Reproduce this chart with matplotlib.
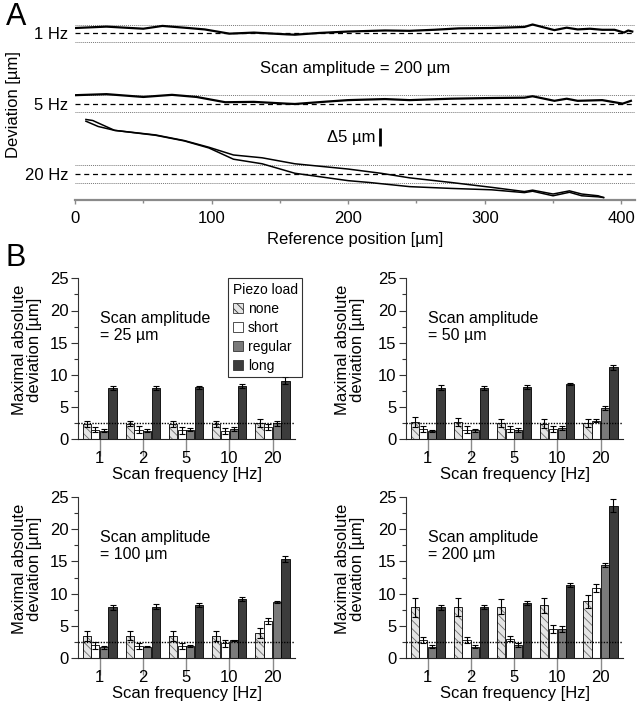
import matplotlib
matplotlib.use("Agg")
import matplotlib.pyplot as plt
from matplotlib.patches import Patch
from matplotlib.ticker import MultipleLocator

plt.rcParams['font.family'] = ['Liberation Sans', 'DejaVu Sans']
plt.rcParams['hatch.linewidth'] = 0.6

W, H = 642, 712

# ── Panel A: deviation traces (µm, relative to each baseline) ──────────────
pos_1hz = [0, 23, 50, 64, 83, 95, 113, 131, 155, 161, 179, 200, 227, 245, 263,
           281, 305, 329, 335, 341, 351, 360, 368, 377, 386, 395, 402, 405, 408]
dev_1hz = [1.5, 1.9, 1.3, 2.1, 1.5, 1.1, -0.1, 0.2, -0.3, -0.4, 0.1, 0.5, 0.8, 0.7, 1.0,
           1.4, 1.5, 1.8, 2.5, 1.9, 0.9, 1.6, 1.1, 1.3, 1.0, 1.0, 0.2, 0.8, 0.5]

pos_5hz = [0, 23, 50, 71, 89, 110, 131, 155, 161, 185, 200, 227, 245, 275,
           305, 329, 335, 351, 360, 368, 386, 401, 407]
dev_5hz = [2.4, 2.7, 1.9, 2.5, 1.9, 0.4, 0.5, 0.0, -0.1, 0.6, 1.0, 1.3, 1.0, 1.4,
           1.6, 1.7, 2.1, 0.8, 1.4, 0.8, 1.0, 0.0, 0.8]

pos_20hz_fwd = [8, 13, 29, 59, 80, 98, 116, 137, 161, 200, 224, 245, 275, 305,
                329, 335, 350, 362, 371, 383, 387]
dev_20hz_fwd = [15.5, 15.2, 12.4, 11.1, 9.5, 7.6, 5.4, 4.6, 2.9, 1.4, 0.2, -1.1, -2.4, -3.8,
                -5.0, -4.6, -5.7, -4.8, -5.7, -6.2, -6.7]
pos_20hz_back = [8, 17, 29, 59, 80, 98, 116, 137, 161, 200, 215, 245, 275, 305,
                 329, 335, 350, 362, 371, 383, 387]
dev_20hz_back = [15.0, 13.5, 12.4, 11.0, 9.4, 7.4, 4.2, 2.9, 0.2, -1.9, -2.4, -3.6, -4.1, -4.5,
                 -5.3, -4.9, -6.2, -5.2, -6.2, -6.5, -6.7]

freq_labels_a = ["1 Hz", "5 Hz", "20 Hz"]
baselines = [0, -20, -40]

# ── Panel B: maximal absolute deviation [µm], order none/short/regular/long ─
freqs = ["1", "2", "5", "10", "20"]
loads = ["none", "short", "regular", "long"]

dev_25um = [[2.4, 2.4, 2.4, 2.4, 2.5],
            [1.5, 1.5, 1.4, 1.3, 1.9],
            [1.35, 1.35, 1.5, 1.6, 2.5],
            [7.95, 7.95, 8.05, 8.3, 9.1]]
err_25um = [[0.5, 0.4, 0.5, 0.5, 0.6],
            [0.4, 0.5, 0.5, 0.4, 0.4],
            [0.2, 0.2, 0.2, 0.3, 0.4],
            [0.3, 0.3, 0.2, 0.3, 0.5]]

dev_50um = [[2.7, 2.7, 2.5, 2.4, 2.5],
            [1.6, 1.5, 1.6, 1.6, 2.9],
            [1.3, 1.4, 1.5, 1.8, 4.9],
            [8.0, 8.0, 8.1, 8.6, 11.2]]
err_50um = [[0.8, 0.6, 0.6, 0.7, 0.6],
            [0.5, 0.5, 0.5, 0.5, 0.2],
            [0.2, 0.2, 0.3, 0.3, 0.3],
            [0.4, 0.3, 0.3, 0.2, 0.4]]

dev_100um = [[3.5, 3.5, 3.5, 3.4, 3.9],
             [2.0, 1.9, 1.9, 2.3, 5.8],
             [1.7, 1.8, 1.9, 2.8, 8.7],
             [7.9, 8.0, 8.2, 9.2, 15.4]]
err_100um = [[0.8, 0.7, 0.8, 0.8, 0.8],
             [0.5, 0.5, 0.5, 0.6, 0.5],
             [0.2, 0.1, 0.2, 0.1, 0.2],
             [0.4, 0.4, 0.3, 0.3, 0.5]]

dev_200um = [[7.9, 7.9, 8.0, 8.2, 8.8],
             [2.8, 2.8, 3.0, 4.5, 10.9],
             [1.8, 1.8, 2.0, 4.5, 14.4],
             [7.9, 8.0, 8.6, 11.4, 23.6]]
err_200um = [[1.5, 1.4, 1.2, 1.2, 1.0],
             [0.5, 0.5, 0.4, 0.6, 0.6],
             [0.2, 0.2, 0.3, 0.5, 0.3],
             [0.4, 0.3, 0.3, 0.3, 1.0]]

amplitudes = ["25", "50", "100", "200"]

face_colors = ["#e4e4e4", "#ffffff", "#7a7a7a", "#3c3c3c"]
hatches = ["\\\\\\\\", None, None, None]

fig = plt.figure(figsize=(W / 100, H / 100), dpi=100)

# ── Panel A ────────────────────────────────────────────────────────────────
axA = fig.add_axes([75 / W, 1 - 200 / H, 560 / W, 182 / H])
for base in baselines:
    axA.axhline(base, color="k", lw=0.9, ls=(0, (4, 3)))
    axA.axhline(base + 2.5, color="#777777", lw=0.7, ls=(0, (1, 1)))
    axA.axhline(base - 2.5, color="#777777", lw=0.7, ls=(0, (1, 1)))

axA.plot(pos_1hz, [baselines[0] + d for d in dev_1hz], color="k", lw=1.6)
axA.plot(pos_5hz, [baselines[1] + d for d in dev_5hz], color="k", lw=1.6)
axA.plot(pos_20hz_fwd, [baselines[2] + d for d in dev_20hz_fwd], color="k", lw=1.1)
axA.plot(pos_20hz_back, [baselines[2] + d for d in dev_20hz_back], color="k", lw=1.1)

axA.set_xlim(0, 410)
axA.set_ylim(-47.4, 4.35)
for s in ("top", "right", "left"):
    axA.spines[s].set_visible(False)
axA.spines["bottom"].set_color("#8a8a8a")
axA.spines["bottom"].set_linewidth(1.6)
axA.xaxis.set_major_locator(MultipleLocator(100))
axA.xaxis.set_minor_locator(MultipleLocator(50))
axA.tick_params(axis="x", which="major", length=3, width=1, color="#8a8a8a",
                labelsize=12, pad=5)
axA.tick_params(axis="x", which="minor", length=1.8, width=1, color="#8a8a8a")
axA.set_yticks(baselines, freq_labels_a)
axA.tick_params(axis="y", length=0, labelsize=12, pad=5)
axA.set_xlabel("Reference position [µm]", fontsize=12, labelpad=4)
fig.text(14 / W, 1 - 105 / H, "Deviation [µm]", rotation=90, ha="center",
         va="center", fontsize=12)

axA.text(205, -10, "Scan amplitude = 200 µm", ha="center", va="center", fontsize=12)
axA.text(220, -29.5, "Δ5 µm", ha="right", va="center", fontsize=12)
axA.plot([223, 223], [-27, -32], color="k", lw=2, solid_capstyle="butt")

fig.text(6 / W, 1 - 17 / H, "A", fontsize=22, ha="left", va="center")
fig.text(6 / W, 1 - 258 / H, "B", fontsize=22, ha="left", va="center")

# ── Panel B ────────────────────────────────────────────────────────────────
panel_data = [(dev_25um, err_25um), (dev_50um, err_50um),
              (dev_100um, err_100um), (dev_200um, err_200um)]
# left px, top px, bottom px
boxes = [(78, 278.3, 439.3), (406, 278.3, 439.3),
         (78, 496.7, 658.3), (406, 496.7, 658.3)]
offsets = [-0.3, -0.1, 0.1, 0.3]
bar_w = 0.19
xs = list(range(len(freqs)))

for i, ((dev, err), (left, top, bottom)) in enumerate(zip(panel_data, boxes)):
    ax = fig.add_axes([left / W, 1 - bottom / H, 217 / W, (bottom - top) / H])
    for j in range(len(loads)):
        xpos = [x + offsets[j] for x in xs]
        if hatches[j]:
            ax.bar(xpos, dev[j], bar_w, color=face_colors[j], hatch=hatches[j],
                   edgecolor="#6e6e6e", lw=0, zorder=2)
            ax.bar(xpos, dev[j], bar_w, fill=False, edgecolor="k", lw=0.6, zorder=2)
        else:
            ax.bar(xpos, dev[j], bar_w, color=face_colors[j], edgecolor="k",
                   lw=0.6, zorder=2)
        ax.errorbar(xpos, dev[j], yerr=err[j], fmt="none", ecolor="k",
                    elinewidth=0.8, capsize=2, capthick=0.8, zorder=4)
    ax.axhline(2.5, color="k", lw=1.0, ls=(0, (1, 1)), zorder=3)

    ax.set_xlim(-0.5, 4.52)
    ax.set_ylim(0, 25)
    ax.spines["top"].set_visible(False)
    ax.spines["right"].set_visible(False)
    ax.spines["left"].set_color("#333333")
    ax.spines["bottom"].set_color("#222222")
    ax.set_xticks(xs, freqs)
    ax.tick_params(axis="x", length=12, width=1, color="#8a8a8a",
                   labelsize=12, pad=-3.5)
    ax.yaxis.set_major_locator(MultipleLocator(5))
    ax.yaxis.set_minor_locator(MultipleLocator(2.5))
    ax.tick_params(axis="y", which="major", length=5, width=0.8,
                   color="#333333", labelsize=12, pad=2)
    ax.tick_params(axis="y", which="minor", length=3, width=0.8, color="#333333")

    ax.text(0.0, 17.4, f"Scan amplitude\n= {amplitudes[i]} µm", ha="left",
            va="center", fontsize=11.5, linespacing=1.2)

    cx = (left + 108.5) / W
    label_x = 27 if left < 200 else 350
    fig.text(label_x / W, 1 - (top + 72) / H, "Maximal absolute\ndeviation [µm]",
             rotation=90, ha="center", va="center", fontsize=12,
             multialignment="center", linespacing=1.05)
    fig.text(cx, 1 - (bottom + 35) / H, "Scan frequency [Hz]", ha="center",
             va="center", fontsize=12)

    if i == 0:
        handles = [Patch(facecolor=face_colors[k], hatch=hatches[k],
                         edgecolor="#333333", lw=0.6) for k in range(len(loads))]
        leg = ax.legend(handles, loads, title="Piezo load", loc="upper left",
                        bbox_to_anchor=(0.69, 1.0), fontsize=10, title_fontsize=10,
                        frameon=True, fancybox=False, edgecolor="k",
                        handlelength=0.75, handleheight=0.75, handletextpad=0.35,
                        labelspacing=0.35, borderpad=0.35, borderaxespad=0,
                        alignment="left")
        leg.get_frame().set_linewidth(0.8)
        leg.set_zorder(5)

fig.savefig("out.png", dpi=100)
